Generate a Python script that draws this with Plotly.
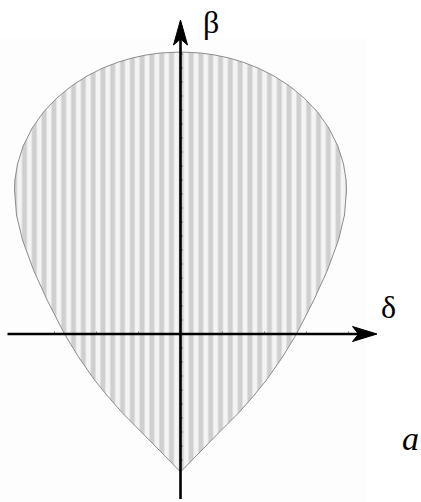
import plotly.graph_objects as go

# Right-hand boundary of the region: height β and half-width δ at that height
beta_profile = [282, 281, 279, 276, 272, 266, 258, 248, 236, 222, 206, 188, 170, 154, 144,
                119, 94, 64, 34, 17, 0, -23, -46, -62, -79, -98, -118, -138]
half_width = [0, 20, 34.4, 48.4, 62, 77.6, 93.5, 109, 123.7, 137, 148.3, 157.3, 163, 165.6, 166,
              164, 158, 147, 133.4, 124.7, 116, 102, 86, 73, 58, 39, 19.5, 0]

# Tick positions along the two axes
delta_ticks = [-126, -84, -42, 42, 84, 126, 168]
beta_ticks = [-126, -112, -98, -84, -70, -56, -42, -28, -14, 14, 28, 42, 56, 70, 84, 98, 112,
              126, 140, 154, 168, 182, 196, 210, 224, 238, 252, 266, 280]

axis_labels = ["β", "δ"]
panel_label = "a"

W, H = 421, 502
x_range = [-180.5, 240.5]
y_range = [-168, 334]
serif = 'Liberation Serif, "Times New Roman", Times, serif'

# closed outline: down the right side, back up the left side
xs = list(half_width) + [-w for w in reversed(half_width)]
ys = list(beta_profile) + list(reversed(beta_profile))

fig = go.Figure()

fig.add_trace(go.Scatter(
    x=xs, y=ys, mode="lines", fill="toself",
    line=dict(color="#8c8c8c", width=1),
    fillcolor="#f4f4f4",
    fillpattern=dict(shape="|", size=9.8, solidity=0.5,
                     fgcolor="#cfcfcf", bgcolor="#f4f4f4", fillmode="replace"),
    hoverinfo="skip", showlegend=False,
))

# small tick marks on the axes
tx, ty = [], []
for d in delta_ticks:
    tx += [d, d, None]
    ty += [0, 2.5, None]
for b in beta_ticks:
    tx += [0, 2.5, None]
    ty += [b, b, None]
fig.add_trace(go.Scatter(x=tx, y=ty, mode="lines",
                         line=dict(color="#777777", width=1),
                         hoverinfo="skip", showlegend=False))

shapes = [
    # faint panel background
    dict(type="rect", xref="x", yref="y", x0=-180.5, x1=186.5, y0=-168, y1=296,
         fillcolor="#fdfdfd", line=dict(width=0), layer="below"),
    # δ axis
    dict(type="line", xref="x", yref="y", x0=-173, y0=0, x1=180, y1=0,
         line=dict(color="black", width=2.6)),
    # β axis
    dict(type="line", xref="x", yref="y", x0=0, y0=-165, x1=0, y1=296,
         line=dict(color="black", width=2.6)),
    # arrowheads
    dict(type="path", xref="x", yref="y",
         path="M 196.5 0 L 172 7.5 L 178 0 L 172 -7.5 Z",
         fillcolor="black", line=dict(color="black", width=1)),
    dict(type="path", xref="x", yref="y",
         path="M 0 314 L -7 289 L 0 295 L 7 289 Z",
         fillcolor="black", line=dict(color="black", width=1)),
]

annotations = [
    dict(x=30, y=312, xref="x", yref="y", text=axis_labels[0], showarrow=False,
         font=dict(family=serif, size=32, color="black")),
    dict(x=207.5, y=27, xref="x", yref="y", text=axis_labels[1], showarrow=False,
         font=dict(family=serif, size=32, color="black")),
    dict(x=229.5, y=-104, xref="x", yref="y", text="<i>" + panel_label + "</i>",
         showarrow=False,
         font=dict(family=serif, size=34, color="black")),
]

fig.update_layout(
    width=W, height=H, margin=dict(l=0, r=0, t=0, b=0),
    paper_bgcolor="white", plot_bgcolor="white",
    xaxis=dict(range=x_range, visible=False, fixedrange=True),
    yaxis=dict(range=y_range, visible=False, fixedrange=True),
    shapes=shapes, annotations=annotations,
)

fig.write_html("out.html")
